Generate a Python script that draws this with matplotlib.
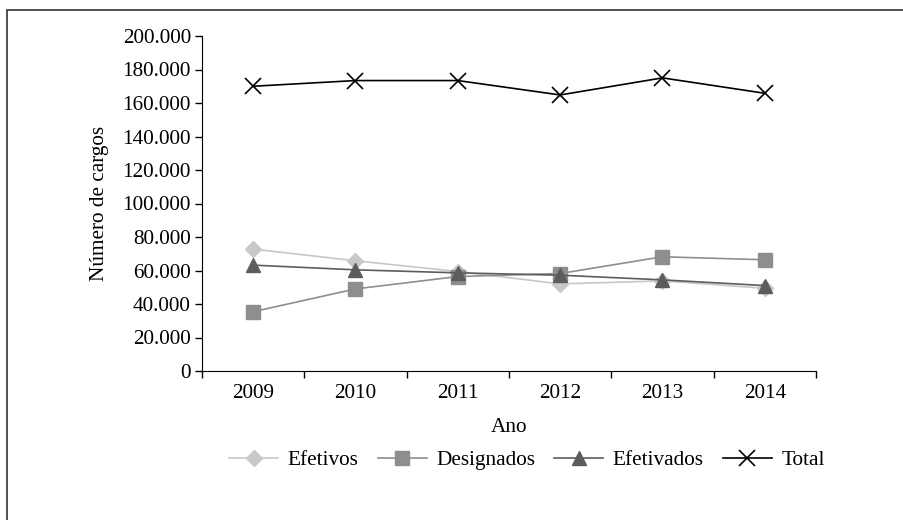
import matplotlib
matplotlib.use('Agg')
import matplotlib.pyplot as plt
from matplotlib.patches import Rectangle
from matplotlib.ticker import FuncFormatter

anos = ['2009', '2010', '2011', '2012', '2013', '2014']
efetivos = [72800, 65800, 59400, 52000, 53800, 49400]
designados = [35400, 49000, 56400, 58200, 68200, 66400]
efetivados = [63200, 60400, 58600, 57200, 54400, 51000]
total = [170000, 173400, 173400, 164800, 175000, 165800]

plt.rcParams['font.family'] = ['Liberation Serif', 'DejaVu Serif']
plt.rcParams['font.size'] = 15.3

fig = plt.figure(figsize=(9.04, 5.2), dpi=100)
ax = fig.add_axes([202/904, 1-371/520, (816-202)/904, (371-36)/520])

x = list(range(len(anos)))
ax.plot(x, efetivos, color='#c8c8c8', lw=1.2, marker='D', ms=8, mec='#c8c8c8', label='Efetivos')
ax.plot(x, designados, color='#8e8e8e', lw=1.2, marker='s', ms=10, mec='#8e8e8e', label='Designados')
ax.plot(x, efetivados, color='#5c5c5c', lw=1.2, marker='^', ms=10, mec='#5c5c5c', label='Efetivados')
ax.plot(x, total, color='black', lw=1.2, marker='x', ms=11, mew=1.2, label='Total')

ax.set_xlim(-0.5, len(anos) - 0.5)
ax.set_ylim(0, 200000)
ax.set_yticks(range(0, 200001, 20000))
ax.yaxis.set_major_formatter(FuncFormatter(lambda v, p: f'{int(v):,}'.replace(',', '.')))
ax.set_xticks(x)
ax.set_xticklabels(anos)
ax.set_xticks([i - 0.5 for i in range(len(anos) + 1)], minor=True)
ax.tick_params(axis='x', which='major', length=0, pad=9)
ax.tick_params(axis='x', which='minor', length=5, width=1)
ax.tick_params(axis='y', length=5, width=1, pad=3)
for s in ['top', 'right']:
    ax.spines[s].set_visible(False)
ax.set_ylabel('Número de cargos')
ax.set_xlabel('Ano')
ax.yaxis.set_label_coords(-0.151, 0.5)
ax.xaxis.set_label_coords(0.5, -0.139)

fig.legend(loc='center', bbox_to_anchor=(527/904, 1-460/520), ncol=4, frameon=False,
           handlelength=2.3, columnspacing=0.9, handletextpad=0.45)

fig.patches.append(Rectangle((7/904, -0.5), 2, 1.5-10/520, transform=fig.transFigure,
                             fill=False, edgecolor='#333333', lw=1.2))

fig.savefig('out.png', dpi=100)
